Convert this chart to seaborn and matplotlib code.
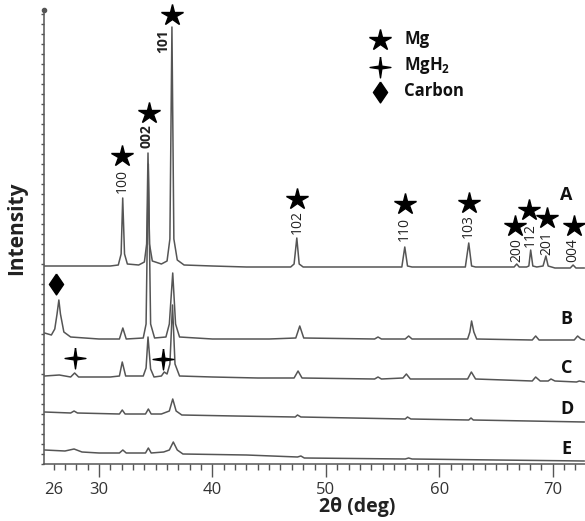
import matplotlib
matplotlib.use("Agg")
import matplotlib.pyplot as plt
import seaborn as sns
import pandas as pd
import numpy as np
from matplotlib.ticker import MultipleLocator

# ---------------- data (intensity in arbitrary units) ----------------
trace_names = ["A", "B", "C", "D", "E"]

a_2theta = [25.2, 27.0, 29.0, 31.0, 31.7, 31.95, 32.09, 32.25, 32.5, 33.5, 34.0, 34.2, 34.32, 34.45, 34.7,
            35.5, 36.0, 36.25, 36.43, 36.6, 36.9, 37.5, 40.0, 43.0, 46.9, 47.2, 47.44, 47.65, 48.0, 50.0,
            53.0, 56.7, 56.96, 57.2, 57.6, 60.0, 62.3, 62.6, 62.85, 63.2, 65.0, 66.6, 66.83, 67.05, 67.7,
            67.9, 68.06, 68.25, 68.6, 69.15, 69.4, 69.6, 70.2, 71.55, 71.8, 72.05, 72.8]
a_int = [198, 198, 198, 198, 199, 210, 266, 210, 200, 199, 202, 220, 311, 220, 203,
         200, 203, 225, 437, 225, 204, 199, 198, 197, 197, 200, 226, 200, 197, 197,
         197, 197, 217, 198, 197, 197, 197, 221, 198, 197, 197, 197, 200, 197, 197,
         198, 214, 198, 197, 198, 208, 198, 196, 196, 199, 196, 196]

b_2theta = [25.2, 25.8, 26.1, 26.3, 26.46, 26.6, 26.9, 27.5, 30.0, 31.8, 32.1, 32.4, 33.9, 34.15, 34.35,
            34.55, 34.9, 35.9, 36.2, 36.5, 36.75, 37.1, 40.0, 45.0, 47.35, 47.7, 48.05, 54.3, 54.6, 54.9,
            57.0, 57.3, 57.6, 62.5, 62.7, 62.85, 63.05, 63.3, 68.2, 68.5, 68.8, 71.9, 72.2, 72.5, 72.8]
b_int = [131, 129, 135, 150, 164, 150, 132, 127, 125, 125, 136, 125, 126, 140, 300,
         140, 126, 127, 140, 191, 140, 127, 125, 125, 126, 138, 126, 125, 127, 125,
         125, 128, 125, 125, 132, 143, 132, 125, 124, 128, 124, 124, 128, 125, 124]

c_2theta = [25.2, 26.5, 27.5, 27.85, 28.2, 31.0, 31.8, 32.05, 32.35, 33.9, 34.15, 34.32, 34.55, 34.85,
            35.5, 35.75, 36.0, 36.25, 36.48, 36.7, 37.1, 40.0, 44.0, 47.2, 47.55, 47.9, 54.3, 54.6, 54.9,
            56.8, 57.1, 57.45, 62.5, 62.83, 63.2, 68.2, 68.5, 68.9, 69.6, 69.85, 70.2, 72.1, 72.35, 72.8]
c_int = [88, 89, 87, 91, 87, 87, 88, 102, 88, 88, 96, 127, 95, 87,
         88, 92, 90, 100, 159, 100, 88, 87, 86, 86, 93, 86, 85, 87, 85,
         86, 90, 85, 85, 92, 85, 83, 87, 83, 83, 85, 83, 82, 83, 82]

d_2theta = [25.2, 27.5, 27.8, 28.1, 31.8, 32.05, 32.3, 34.1, 34.35, 34.6, 35.5, 36.2, 36.5, 36.8, 37.3,
            42.0, 47.3, 47.5, 47.8, 57.0, 57.2, 57.5, 62.6, 62.8, 63.0, 72.8]
d_int = [52, 51, 53, 51, 50, 54, 50, 50, 55, 50, 50, 53, 65, 53, 49,
         48, 47, 49, 47, 45, 47, 45, 44, 46, 44, 42]

e_2theta = [25.2, 27.0, 27.8, 28.5, 30.0, 31.8, 32.1, 32.4, 34.1, 34.35, 34.6, 35.7, 36.2, 36.55, 36.9,
            37.4, 43.0, 47.5, 47.8, 48.1, 57.0, 57.3, 57.6, 65.0, 72.8]
e_int = [14, 13, 15, 12, 11, 11, 14, 11, 11, 16, 11, 12, 14, 22, 14,
         10, 9, 7, 8, 6, 5, 6, 5, 4, 3]

# Mg reflections marked on pattern A
mg_hkl = ["100", "002", "101", "102", "110", "103", "200", "112", "201", "004"]
mg_2theta = [32.03, 34.41, 36.43, 47.44, 56.96, 62.6, 66.65, 67.89, 69.47, 71.85]
mg_star_y = [308, 351, 449, 265, 260, 261, 238, 254, 246, 238]
mg_label_x = [32.03, 34.23, 35.64, 47.44, 56.96, 62.6, 66.83, 68.06, 69.47, 71.76]
mg_label_y = [283, 328, 423, 242, 235, 238, 214, 229, 221, 214]
mg_label_bold = [False, True, True, False, False, False, False, False, False, False]

mgh2_2theta = [27.89, 35.64]
mgh2_y = [106, 105]
carbon_2theta = [26.23]
carbon_y = [180]

trace_label_y = [269, 145, 96, 55, 15]
xtick_vals = [26, 30, 40, 50, 60, 70]

# ---------------- styling ----------------
sns.set_theme(style="ticks")
plt.rcParams["font.family"] = ["Open Sans", "DejaVu Sans"]
plt.rcParams["mathtext.fontset"] = "custom"
plt.rcParams["mathtext.rm"] = "Open Sans"
plt.rcParams["mathtext.bf"] = "Open Sans:bold"

LINE = "#555555"
fig = plt.figure(figsize=(5.85, 5.21), dpi=100)
ax = fig.add_axes([44 / 585, 57 / 521, 541 / 585, 454 / 521])

series = [(a_2theta, a_int), (b_2theta, b_int), (c_2theta, c_int), (d_2theta, d_int), (e_2theta, e_int)]
frames = []
for name, (xs, ys) in zip(trace_names, series):
    frames.append(pd.DataFrame({"two_theta": xs, "intensity": ys, "sample": name}))
df = pd.concat(frames, ignore_index=True)

for name in trace_names:
    sub = df[df["sample"] == name]
    sns.lineplot(data=sub, x="two_theta", y="intensity", ax=ax, color=LINE, lw=1.1,
                 estimator=None, sort=False, legend=False)

# four-pointed star and tall diamond marker shapes
cross4 = [(0, 1), (0.13, 0.13), (1, 0), (0.13, -0.13), (0, -1), (-0.13, -0.13), (-1, 0), (-0.13, 0.13), (0, 1)]
diam = [(0, 1), (0.68, 0), (0, -1), (-0.68, 0), (0, 1)]

# Mg stars and hkl labels
ax.plot(mg_2theta, mg_star_y, ls="none", marker="*", ms=16, color="black", clip_on=False)
for hkl, lx, ly, bold in zip(mg_hkl, mg_label_x, mg_label_y, mg_label_bold):
    ax.text(lx, ly, hkl, rotation=90, ha="center", va="center", fontsize=10,
            fontweight="bold" if bold else "normal", color="#222222")

ax.plot(mgh2_2theta, mgh2_y, ls="none", marker=cross4, ms=15, color="black")
ax.plot(carbon_2theta, carbon_y, ls="none", marker=diam, ms=15, color="black")

for name, ty in zip(trace_names, trace_label_y):
    ax.text(71.23, ty, name, ha="center", va="center", fontsize=13, fontweight="bold", color="#111111")

# legend (manual)
ax.plot([54.76], [424], ls="none", marker="*", ms=16, color="black")
ax.plot([54.76], [397], ls="none", marker=cross4, ms=15, color="black")
ax.plot([54.76], [372], ls="none", marker=diam, ms=15, color="black")
ax.text(56.9, 425, "Mg", ha="left", va="center", fontsize=12, fontweight="bold", color="#111111")
ax.text(56.9, 399, r"$\mathbf{MgH_2}$", ha="left", va="center", fontsize=12, color="#111111")
ax.text(56.9, 373, "Carbon", ha="left", va="center", fontsize=12, fontweight="bold", color="#111111")

# axes
ax.set_xlim(25.15, 72.85)
ax.set_ylim(0, 454)
ax.set_xticks(xtick_vals)
ax.set_xticklabels([str(v) for v in xtick_vals])
ax.xaxis.set_minor_locator(MultipleLocator(1))
ax.yaxis.set_major_locator(MultipleLocator(10))
ax.set_yticklabels([])
ax.tick_params(axis="x", which="major", length=9, width=1, color=LINE, direction="out",
               labelsize=12, labelcolor="#333333", pad=4)
ax.tick_params(axis="x", which="minor", length=4.5, width=1, color=LINE, direction="out")
ax.tick_params(axis="y", which="major", length=2.5, width=1, color=LINE, direction="out")
ax.xaxis.get_major_ticks()[0].tick1line.set_markersize(4.5)
for side in ["top", "right"]:
    ax.spines[side].set_visible(False)
for side in ["left", "bottom"]:
    ax.spines[side].set_color(LINE)
    ax.spines[side].set_linewidth(1.1)
ax.plot([25.15], [454], ls="none", marker="o", ms=3, color=LINE, clip_on=False)

ax.set_xlabel("2θ (deg)", fontsize=14, fontweight="bold", color="#222222", labelpad=0)
ax.set_ylabel("Intensity", fontsize=15, fontweight="bold", color="#222222", labelpad=8)
ax.yaxis.set_label_coords(-0.032, 0.52)
ax.xaxis.set_label_coords(0.578, -0.072)

fig.savefig("out.png", dpi=100)
